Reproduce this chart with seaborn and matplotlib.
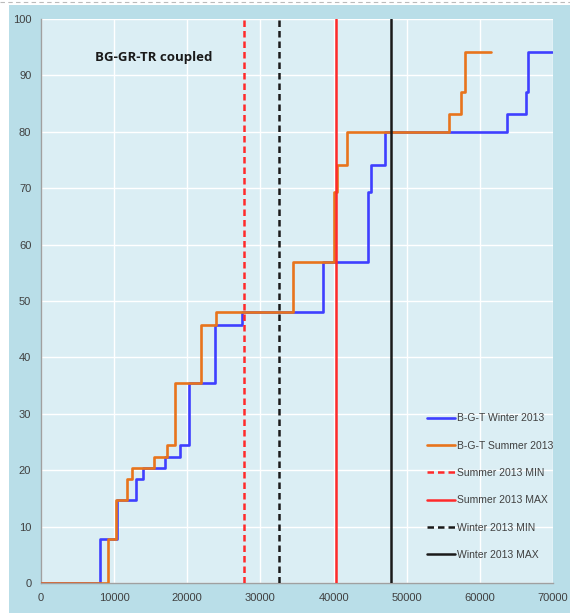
import matplotlib
matplotlib.use("Agg")
import matplotlib.pyplot as plt
import seaborn as sns
from matplotlib.lines import Line2D

# step curves (x = step position, y = value after the step)
winter_x = [0, 8050, 10400, 13050, 13950, 17000, 19000, 20230, 23740, 27460,
            38520, 44650, 45100, 47000, 63660, 66250, 66600, 69900]
winter_y = [0, 7.8, 14.8, 18.5, 20.4, 22.4, 24.4, 35.5, 45.8, 48.0,
            57.0, 69.3, 74.1, 80.0, 83.1, 87.1, 94.2, 94.2]

summer_x = [0, 9200, 10230, 11700, 12380, 15420, 17280, 18370, 21830, 23960,
            34520, 40100, 40480, 41800, 55800, 57470, 57980, 61500]
summer_y = [0, 7.8, 14.8, 18.5, 20.4, 22.4, 24.4, 35.5, 45.8, 48.0,
            57.0, 69.3, 74.1, 80.0, 83.1, 87.1, 94.2, 94.2]

limit_labels = ["Summer 2013 MIN", "Summer 2013 MAX", "Winter 2013 MIN", "Winter 2013 MAX"]
limit_values = [27800, 40400, 32600, 47800]
limit_colors = ["#ff2a2a", "#ff2a2a", "#1a1a1a", "#1a1a1a"]
limit_styles = ["--", "-", "--", "-"]

x_ticks = [0, 10000, 20000, 30000, 40000, 50000, 60000, 70000]
y_ticks = [0, 10, 20, 30, 40, 50, 60, 70, 80, 90, 100]

sns.set_style("white")
plt.rcParams["font.family"] = ["Liberation Sans", "DejaVu Sans"]

fig = plt.figure(figsize=(5.7, 6.13), dpi=100, facecolor="white")

# outer light-blue frame behind the plot
bg = fig.add_axes([9 / 570, 0, 561 / 570, 608 / 613], zorder=-1)
bg.set_facecolor("#b9dee8")
bg.set_xticks([])
bg.set_yticks([])
for s in bg.spines.values():
    s.set_visible(False)

# dashed border line at the top
fig.lines.append(Line2D([0, 1], [1 - 2 / 613, 1 - 2 / 613], transform=fig.transFigure,
                        color="#bbbbbb", lw=0.8, ls=(0, (4, 3))))

ax = fig.add_axes([41 / 570, 30 / 613, 512 / 570, 564 / 613], zorder=1)
ax.set_facecolor("#dbeef4")

sns.lineplot(x=winter_x, y=winter_y, ax=ax, color="#3f3fff", lw=1.9,
             drawstyle="steps-post", estimator=None, sort=False,
             label="B-G-T Winter 2013", zorder=3)
sns.lineplot(x=summer_x, y=summer_y, ax=ax, color="#e8741c", lw=1.9,
             drawstyle="steps-post", estimator=None, sort=False,
             label="B-G-T Summer 2013", zorder=4)

for lab, val, col, st in zip(limit_labels, limit_values, limit_colors, limit_styles):
    if st == "--":
        ax.axvline(val, color=col, lw=1.8, label=lab, zorder=5, dashes=(2.6, 1.6))
    else:
        ax.axvline(val, color=col, lw=1.8, label=lab, zorder=5)

ax.set_xlim(0, 70000)
ax.set_ylim(0, 100)
ax.set_xticks(x_ticks)
ax.set_yticks(y_ticks)
ax.grid(True, color="white", lw=1.0)
ax.set_axisbelow(True)

for side in ["top", "right"]:
    ax.spines[side].set_visible(False)
for side in ["left", "bottom"]:
    ax.spines[side].set_color("#a0a0a0")
    ax.spines[side].set_linewidth(1.0)

ax.tick_params(axis="both", direction="out", length=3, width=0.8, color="#a0a0a0",
               labelsize=8, labelcolor="#404040", pad=4)
ax.set_xlabel("")
ax.set_ylabel("")

ax.text(15400, 93.2, "BG-GR-TR coupled", ha="center", va="center",
        fontsize=9.5, fontweight="bold", color="#1a1a1a",
        family=["Open Sans", "DejaVu Sans"])

leg = ax.legend(loc="upper left", bbox_to_anchor=(0.744, 0.31), frameon=False,
                fontsize=7.5, labelspacing=1.66, handlelength=2.7, handletextpad=0.15,
                borderpad=0)
for t in leg.get_texts():
    t.set_color("#404040")

fig.savefig("out.png", dpi=100, facecolor=fig.get_facecolor())
